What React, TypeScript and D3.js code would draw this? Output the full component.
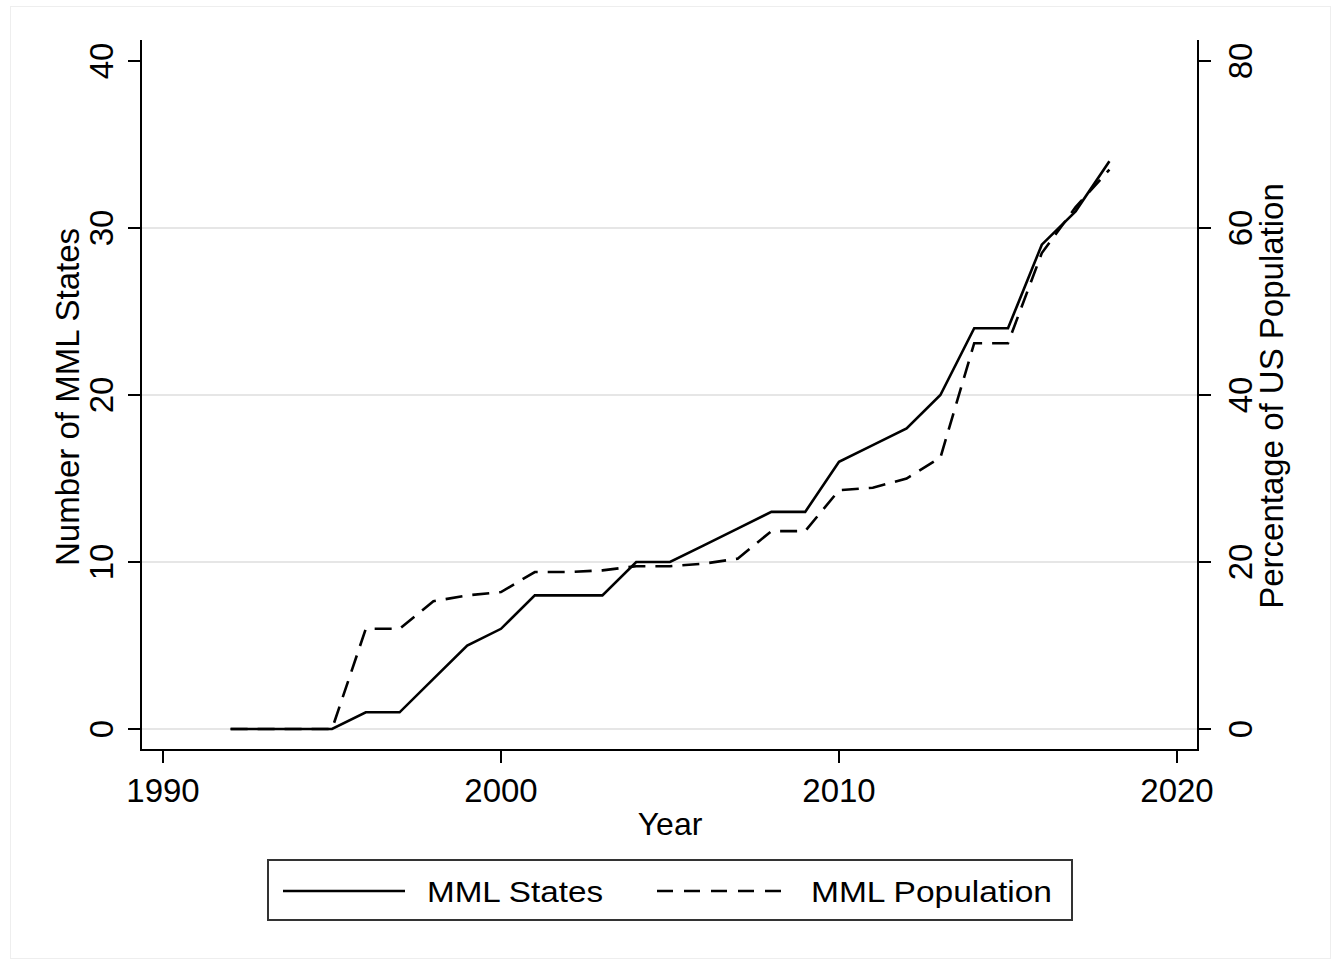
import React, { useRef, useEffect } from 'react';
import * as d3 from 'd3';

const years = [1992, 1993, 1994, 1995, 1996, 1997, 1998, 1999, 2000, 2001, 2002, 2003, 2004, 2005,
  2006, 2007, 2008, 2009, 2010, 2011, 2012, 2013, 2014, 2015, 2016, 2017, 2018];
const mmlStates = [0, 0, 0, 0, 1, 1, 3, 5, 6, 8, 8, 8, 10, 10, 11, 12, 13, 13, 16, 17, 18, 20, 24, 24, 29, 31, 34];
const mmlPopulation = [0, 0, 0, 0, 12.0, 12.0, 15.3, 16.0, 16.4, 18.8, 18.8, 19.0, 19.5, 19.5, 19.8, 20.4,
  23.7, 23.7, 28.6, 28.9, 30.0, 32.5, 46.2, 46.2, 57.0, 62.5, 67.0];
const xTicks = [1990, 2000, 2010, 2020];
const leftTicks = [0, 10, 20, 30, 40];
const rightTicks = [0, 20, 40, 60, 80];
const gridTicks = [0, 10, 20, 30];

const W = 1334;
const H = 964;
const FONT = '"Liberation Sans", Arial, sans-serif';

const App = () => {
  const svgRef = useRef<SVGSVGElement>(null);

  useEffect(() => {
    const svg = d3.select(svgRef.current);
    svg.selectAll('*').remove();

    const left = 141, right = 1198, top = 40, bottom = 750;
    const x = d3.scaleLinear().domain([1990, 2020]).range([163, 1177]);
    const y = d3.scaleLinear().domain([0, 40]).range([729, 61]);
    const y2 = d3.scaleLinear().domain([0, 80]).range([729, 61]);

    svg.append('rect').attr('width', W).attr('height', H).attr('fill', '#fff');
    svg.append('rect')
      .attr('x', 10.5).attr('y', 6.5).attr('width', 1320).attr('height', 952)
      .attr('fill', 'none').attr('stroke', '#eeeeee');

    // grid
    svg.append('g').selectAll('line').data(gridTicks).enter().append('line')
      .attr('x1', left).attr('x2', right)
      .attr('y1', d => y(d)).attr('y2', d => y(d))
      .attr('stroke', '#e6e6e6').attr('stroke-width', 2);

    // axes lines
    const ax = svg.append('g').attr('stroke', '#000').attr('stroke-width', 2);
    ax.append('line').attr('x1', left).attr('x2', left).attr('y1', top).attr('y2', bottom);
    ax.append('line').attr('x1', right).attr('x2', right).attr('y1', top).attr('y2', bottom);
    ax.append('line').attr('x1', left - 1).attr('x2', right + 1).attr('y1', bottom).attr('y2', bottom);

    // left ticks
    leftTicks.forEach(t => {
      ax.append('line').attr('x1', left - 13).attr('x2', left).attr('y1', y(t)).attr('y2', y(t));
      svg.append('text')
        .attr('transform', `translate(113,${y(t)}) rotate(-90)`)
        .attr('text-anchor', 'middle')
        .attr('font-family', FONT).attr('font-size', 33)
        .text(t);
    });
    // right ticks
    rightTicks.forEach(t => {
      ax.append('line').attr('x1', right).attr('x2', right + 13).attr('y1', y2(t)).attr('y2', y2(t));
      svg.append('text')
        .attr('transform', `translate(1252,${y2(t)}) rotate(-90)`)
        .attr('text-anchor', 'middle')
        .attr('font-family', FONT).attr('font-size', 33)
        .text(t);
    });
    // x ticks
    xTicks.forEach(t => {
      ax.append('line').attr('x1', x(t)).attr('x2', x(t)).attr('y1', bottom).attr('y2', bottom + 13);
      svg.append('text')
        .attr('x', x(t)).attr('y', 802)
        .attr('text-anchor', 'middle')
        .attr('font-family', FONT).attr('font-size', 33)
        .text(t);
    });

    // axis titles
    svg.append('text')
      .attr('x', 670).attr('y', 835)
      .attr('text-anchor', 'middle')
      .attr('font-family', FONT).attr('font-size', 32)
      .text('Year');
    svg.append('text')
      .attr('transform', `translate(79,397) rotate(-90)`)
      .attr('text-anchor', 'middle')
      .attr('font-family', FONT).attr('font-size', 33)
      .text('Number of MML States');
    svg.append('text')
      .attr('transform', `translate(1283,396) rotate(-90)`)
      .attr('text-anchor', 'middle')
      .attr('font-family', FONT).attr('font-size', 33)
      .text('Percentage of US Population');

    // lines
    const lineStates = d3.line<number>().x((_, i) => x(years[i])).y(d => y(d));
    const linePop = d3.line<number>().x((_, i) => x(years[i])).y(d => y2(d));

    svg.append('path').datum(mmlPopulation)
      .attr('d', linePop)
      .attr('fill', 'none').attr('stroke', '#000').attr('stroke-width', 2.6)
      .attr('stroke-dasharray', '17,10');
    svg.append('path').datum(mmlStates)
      .attr('d', lineStates)
      .attr('fill', 'none').attr('stroke', '#000').attr('stroke-width', 2.6);

    // legend
    const lg = svg.append('g');
    lg.append('rect')
      .attr('x', 268).attr('y', 860).attr('width', 804).attr('height', 60)
      .attr('fill', '#fff').attr('stroke', '#333').attr('stroke-width', 2);
    lg.append('line').attr('x1', 283).attr('x2', 405).attr('y1', 891).attr('y2', 891)
      .attr('stroke', '#000').attr('stroke-width', 2.6);
    lg.append('line').attr('x1', 657).attr('x2', 784).attr('y1', 891).attr('y2', 891)
      .attr('stroke', '#000').attr('stroke-width', 2.6).attr('stroke-dasharray', '16,11');
    lg.append('text').attr('x', 427).attr('y', 902)
      .attr('font-family', FONT).attr('font-size', 29)
      .attr('textLength', 176).attr('lengthAdjust', 'spacingAndGlyphs')
      .text('MML States');
    lg.append('text').attr('x', 811).attr('y', 902)
      .attr('font-family', FONT).attr('font-size', 29)
      .attr('textLength', 241).attr('lengthAdjust', 'spacingAndGlyphs')
      .text('MML Population');
  }, []);

  return (
    <svg ref={svgRef} width={W} height={H} style={{ position: 'absolute', left: 0, top: 0 }}></svg>
  );
};

export default App;
